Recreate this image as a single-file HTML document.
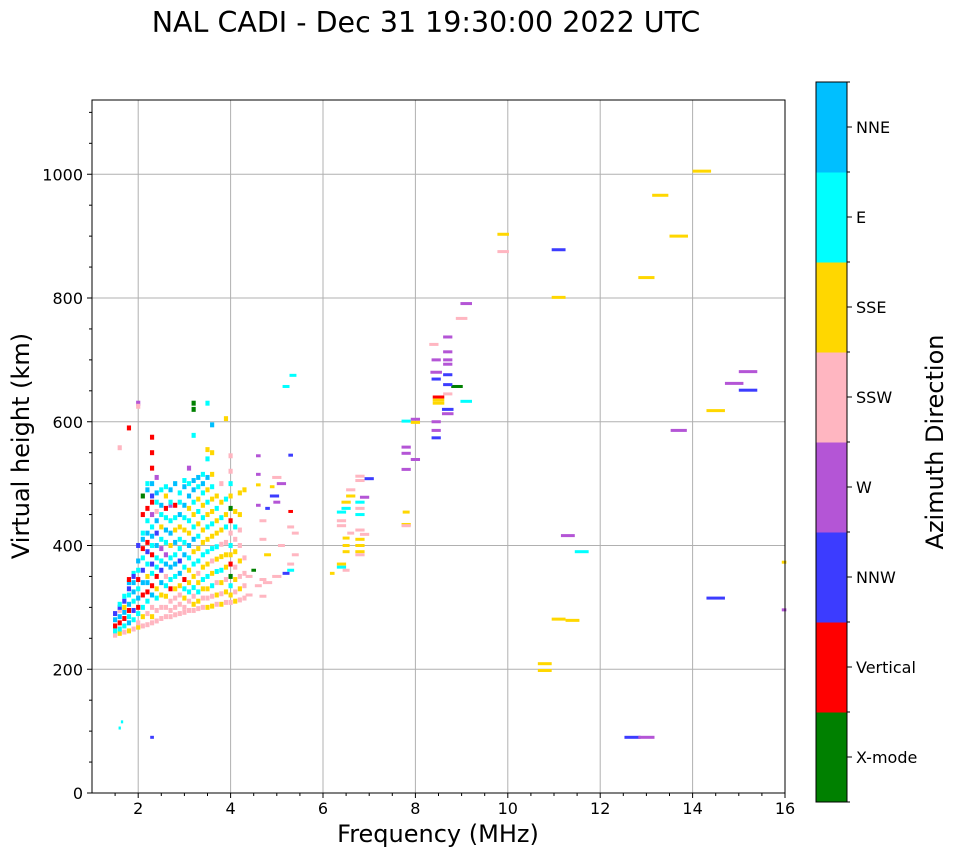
<!DOCTYPE html>
<html><head><meta charset="utf-8"><style>
body{margin:0;background:#fff;font-family:"Liberation Sans","DejaVu Sans",sans-serif}
svg text{font-family:"DejaVu Sans","Liberation Sans",sans-serif}
</style></head><body>
<svg id="chart" width="958" height="857" viewBox="0 0 958 857" xmlns="http://www.w3.org/2000/svg">
<text x="426" y="32" font-size="28.5" text-anchor="middle">NAL CADI - Dec 31 19:30:00 2022 UTC</text>
<g id="grid"></g>
<g id="marks"></g>
<rect x="92" y="100" width="693" height="693" fill="none" stroke="#000" stroke-width="1"/>
<g id="axes"></g>
<text x="438" y="842" font-size="24" text-anchor="middle">Frequency (MHz)</text>
<text transform="translate(29,446) rotate(-90)" font-size="24" text-anchor="middle">Virtual height (km)</text>
<g id="colorbar"></g>
<text transform="translate(943,442) rotate(-90)" font-size="24" text-anchor="middle">Azimuth Direction</text>
</svg>
<script>
const directionNames=["X-mode","Vertical","NNW","W","SSW","SSE","E","NNE"];
const directionColors=["#008000","#ff0000","#3c3cff","#b455d6","#ffb6c1","#ffd700","#00ffff","#00bfff"];
const xTicks=[2,4,6,8,10,12,14,16];
const yTicks=[0,200,400,600,800,1000];
// isolated bars: [freq, height, widthMHz, dir]
const bars=[[9.9,903,0.25,5],[9.9,875,0.25,4],[11.1,878,0.3,2],[11.1,801,0.3,5],[13.0,833,0.35,5],[13.3,966,0.35,5],[14.2,1005,0.4,5],[13.7,900,0.4,5],[13.7,586,0.35,3],[14.5,618,0.4,5],[14.9,662,0.4,3],[15.2,681,0.4,3],[15.2,651,0.4,2],[11.3,416,0.3,3],[11.6,390,0.3,6],[14.5,315,0.4,2],[15.98,373,0.1,5],[15.98,296,0.1,3],[11.1,281,0.3,5],[11.4,279,0.3,5],[10.8,209,0.3,5],[10.8,198,0.3,5],[12.7,90,0.35,2],[13.0,90,0.35,3],[2.3,90,0.08,2],[1.65,115,0.05,6],[1.6,105,0.05,6],[9.1,791,0.25,3],[9.0,767,0.25,4],[9.1,633,0.25,6],[8.9,657,0.25,0],
[8.7,737,0.2,3],[8.7,713,0.2,3],[8.7,700,0.2,3],[8.7,693,0.2,3],[8.45,700,0.2,3],[8.45,680,0.25,3],[8.45,669,0.2,2],[8.7,676,0.2,2],[8.7,660,0.2,2],[8.7,645,0.2,4],[8.5,640,0.25,1],[8.5,635,0.25,5],[8.5,630,0.25,5],[8.7,620,0.25,2],[8.7,613,0.25,3],[8.45,600,0.2,3],[8.45,586,0.2,3],[8.45,574,0.2,2],[8.4,725,0.2,4],
[7.8,601,0.2,6],[8.0,604,0.2,3],[8.0,599,0.2,5],[7.8,559,0.2,3],[7.8,549,0.2,3],[8.0,539,0.2,3],[7.8,523,0.2,3],[7.8,454,0.15,5],[7.8,434,0.2,5],[7.8,432,0.2,4],
[6.8,512,0.2,4],[6.8,505,0.2,4],[7.0,508,0.2,2],[6.6,490,0.2,4],[6.6,480,0.2,5],[6.9,478,0.2,3],[6.8,470,0.2,6],[6.5,470,0.2,5],[6.5,460,0.2,6],[6.8,460,0.2,4],[6.8,450,0.2,6],[6.4,454,0.2,6],[6.4,440,0.2,4],[6.4,432,0.2,4],[6.6,420,0.15,4],[6.9,418,0.2,4],[6.8,425,0.2,4],[6.5,412,0.15,5],[6.5,400,0.15,5],[6.5,390,0.15,5],[6.8,410,0.2,5],[6.8,400,0.2,5],[6.8,390,0.2,5],[6.8,385,0.2,4],[6.4,370,0.2,5],[6.4,365,0.2,6],[6.5,360,0.15,4],[6.2,355,0.1,5],
[5.35,675,0.15,6],[5.2,657,0.15,6],[5.3,546,0.1,2],[5.0,510,0.2,4],[5.1,500,0.2,3],[4.9,495,0.1,5],[4.95,480,0.2,2],[5.0,470,0.15,3],[4.8,460,0.1,2],[5.3,455,0.1,1],[5.3,430,0.15,4],[5.4,420,0.15,4],[5.1,400,0.15,4],[5.4,385,0.15,4],[5.3,370,0.15,4],[5.3,360,0.15,6],[5.2,355,0.15,2],[5.0,350,0.2,4],[4.6,545,0.1,3],[4.6,515,0.1,3],[4.6,498,0.1,5],[4.6,465,0.1,3],[4.7,440,0.15,4],[4.7,410,0.15,4],[4.8,385,0.15,5],[4.5,360,0.1,0],[4.7,345,0.15,4],[4.6,335,0.15,4],[4.8,340,0.2,4],[4.4,350,0.15,4],[4.4,320,0.15,4],[4.7,318,0.15,4]];
// dense cloud columns: frequency + list of [height, dir]
const cloudFreqs=[1.5,1.6,1.7,1.8,1.9,2.0,2.1,2.2,2.3,2.4,2.5,2.6,2.7,2.8,2.9,3.0,3.1,3.2,3.3,3.4,3.5,3.6,3.7,3.8,3.9,4.0,4.1,4.2,4.3];
const cloudEchoes=[
[[255,4],[262,6],[270,1],[280,7],[290,2]],
[[258,5],[265,6],[275,1],[285,7],[295,4],[300,2],[305,6],[558,4]],
[[260,4],[270,6],[282,1],[292,7],[300,5],[310,2],[318,6]],
[[262,5],[275,7],[285,6],[295,1],[305,7],[320,6],[330,2],[340,7],[345,1],[590,1]],
[[265,4],[280,6],[295,2],[310,6],[325,7],[340,7],[355,6],[350,2]],
[[268,5],[275,4],[290,6],[300,1],[315,7],[330,6],[345,1],[360,6],[375,7],[400,2],[630,3],[625,4]],
[[270,4],[285,5],[300,6],[320,1],[340,7],[360,2],[380,6],[395,1],[410,7],[420,6],[450,1],[480,0]],
[[272,4],[290,4],[310,6],[325,1],[340,7],[350,5],[370,6],[390,2],[405,1],[420,7],[440,6],[460,1],[490,7],[500,6]],
[[275,4],[285,5],[300,4],[320,7],[335,1],[355,6],[370,2],[385,1],[400,6],[415,7],[430,6],[450,3],[470,1],[480,2],[500,7],[525,1],[575,1],[550,1]],
[[278,4],[295,4],[315,6],[330,5],[350,1],[365,6],[380,6],[400,7],[420,2],[440,7],[455,4],[470,6],[485,7],[510,3]],
[[282,4],[300,4],[320,5],[340,7],[360,2],[375,6],[395,3],[410,6],[430,5],[450,6],[465,7],[490,6]],
[[285,4],[300,4],[318,5],[335,6],[350,4],[370,7],[385,3],[405,6],[425,7],[445,6],[460,1],[480,5],[495,6]],
[[285,4],[295,4],[310,4],[330,1],[345,6],[365,7],[380,6],[400,5],[420,7],[440,6],[465,3],[470,6],[490,7]],
[[288,4],[300,4],[315,4],[330,5],[350,6],[370,7],[385,6],[405,7],[425,5],[445,6],[465,1],[500,7]],
[[290,4],[305,4],[320,4],[335,5],[355,7],[375,2],[395,6],[410,6],[430,5],[450,7],[470,6],[485,6]],
[[292,4],[300,4],[315,5],[330,6],[345,1],[365,6],[385,7],[405,6],[425,5],[445,6],[465,7],[495,7],[505,6]],
[[295,4],[310,4],[325,6],[340,5],[360,5],[380,6],[400,7],[420,5],[440,6],[460,5],[480,7],[500,6],[525,3]],
[[295,4],[305,5],[318,4],[332,6],[350,5],[370,6],[390,5],[410,7],[430,6],[450,5],[470,6],[490,7],[505,7],[620,0],[630,0],[578,6]],
[[298,4],[310,5],[325,6],[340,5],[355,4],[375,6],[395,5],[415,6],[435,5],[455,6],[475,5],[495,6],[510,7]],
[[300,4],[315,4],[330,5],[345,6],[365,5],[385,6],[405,5],[425,5],[445,6],[465,5],[485,6],[500,7],[515,6]],
[[300,5],[315,4],[330,5],[350,6],[370,5],[390,6],[410,5],[430,6],[450,5],[470,6],[490,5],[510,7],[540,6],[555,5],[630,6]],
[[302,5],[318,4],[335,6],[355,5],[375,4],[395,6],[415,5],[435,6],[455,5],[475,5],[495,6],[515,5],[550,5],[595,7]],
[[305,4],[320,5],[340,4],[358,6],[378,5],[398,6],[420,5],[440,5],[460,6],[480,5]],
[[305,5],[322,4],[340,5],[360,6],[382,5],[402,4],[425,5],[445,6],[470,5],[500,4]],
[[308,4],[325,5],[345,4],[365,5],[385,5],[405,4],[430,6],[450,5],[475,6],[605,5]],
[[308,4],[320,5],[335,6],[350,0],[370,1],[385,5],[400,6],[420,4],[440,1],[460,0],[480,5],[500,6],[520,4],[545,4]],
[[310,5],[325,4],[345,5],[365,4],[390,5],[410,4],[430,6],[455,5]],
[[312,4],[330,5],[350,4],[375,5],[400,4],[425,4],[450,5],[485,5]],
[[315,4],[335,4],[355,4],[380,4],[490,5]]];

const NS="http://www.w3.org/2000/svg";
const X0=92,X1=785,Y0=793,Y1=100,FMIN=1,FMAX=16,HMIN=0,HMAX=1120;
const xs=f=>X0+(f-FMIN)/(FMAX-FMIN)*(X1-X0);
const ys=h=>Y0-(h-HMIN)/(HMAX-HMIN)*(Y0-Y1);
function mk(tag,attrs,parent){const e=document.createElementNS(NS,tag);for(const k in attrs)e.setAttribute(k,attrs[k]);parent.appendChild(e);return e;}
const grid=document.getElementById('grid'),axes=document.getElementById('axes'),marks=document.getElementById('marks'),cb=document.getElementById('colorbar');
xTicks.forEach(t=>{
  if(t<FMAX){const g=mk('line',{x1:xs(t),x2:xs(t),y1:Y1,y2:Y0,stroke:'#b0b0b0','stroke-width':1},grid);
  
  }
  mk('line',{x1:xs(t),x2:xs(t),y1:Y0,y2:Y0+5,stroke:'#000'},axes);
  const tx=mk('text',{x:xs(t),y:Y0+21,'font-size':16,'text-anchor':'middle'},axes);tx.textContent=t;
  
  
});
for(let f=1.5;f<FMAX;f+=0.5){if(f%2!==0)mk('line',{x1:xs(f),x2:xs(f),y1:Y0,y2:Y0+3,stroke:'#000'},axes);}
yTicks.forEach(t=>{
  if(t>0){const g=mk('line',{x1:X0,x2:X1,y1:ys(t),y2:ys(t),stroke:'#b0b0b0','stroke-width':1},grid);
  
  }
  mk('line',{x1:X0-5,x2:X0,y1:ys(t),y2:ys(t),stroke:'#000'},axes);
  const tx=mk('text',{x:X0-9,y:ys(t)+6,'font-size':16,'text-anchor':'end'},axes);tx.textContent=t;
  
  
});
for(let h=50;h<HMAX;h+=50){if(h%200!==0)mk('line',{x1:X0-3,x2:X0,y1:ys(h),y2:ys(h),stroke:'#000'},axes);}
bars.forEach(b=>{
  const r=mk('rect',{x:xs(b[0]-b[2]/2),y:ys(b[1])-1.5,width:xs(b[2])-xs(0),height:3,fill:directionColors[b[3]]},marks);
  
  
});
cloudFreqs.forEach((f,i)=>{
  cloudEchoes[i].forEach(e=>{
    const r=mk('rect',{x:xs(f-0.045),y:ys(e[0]+4),width:xs(0.09)-xs(0),height:ys(0)-ys(8),fill:directionColors[e[1]]},marks);
    
    
  });
});
// colorbar
const CX=816,CW=31,CT=82,CB=802,seg=(CB-CT)/directionNames.length;
directionNames.forEach((n,i)=>{
  const top=CB-(i+1)*seg;
  const r=mk('rect',{x:CX,y:top,width:CW,height:seg+0.5,fill:directionColors[i]},cb);
  
  
  mk('line',{x1:CX+CW,x2:CX+CW+5,y1:top+seg/2,y2:top+seg/2,stroke:'#000'},cb);
  const tx=mk('text',{x:CX+CW+9,y:top+seg/2+6,'font-size':16},cb);tx.textContent=n;
  
  
});
for(let i=0;i<=directionNames.length;i++){mk('line',{x1:CX+CW,x2:CX+CW+3,y1:CB-i*seg,y2:CB-i*seg,stroke:'#000'},cb);}
mk('rect',{x:CX,y:CT,width:CW,height:CB-CT,fill:'none',stroke:'#000'},cb);
</script>
</body></html>
